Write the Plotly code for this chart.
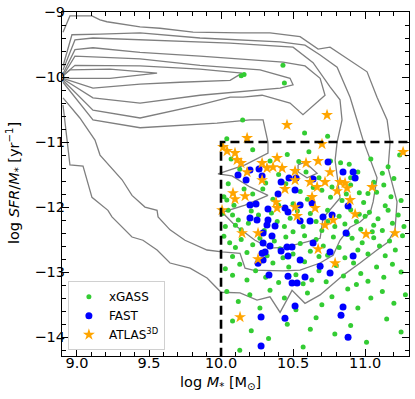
import plotly.graph_objects as go

# ---------------- contour paths (log M*, log sSFR) ----------------
c1_x = [8.903, 8.951, 9.104, 9.160, 9.208, 9.438, 9.576, 9.806, 10.132, 10.340, 10.549, 10.674, 10.757, 11.014, 11.083, 11.153, 11.174, 11.160, 11.222, 11.208, 11.153, 11.083, 10.965, 10.847, 10.688, 10.583, 10.493, 10.410, 10.340, 10.250, 10.132, 10.000, 9.903, 9.785, 9.646, 9.556, 9.458, 9.382, 9.243, 9.215, 9.104, 9.042, 8.951, 8.931, 8.903]
c1_y = [-9.31, -9.06, -9.06, -9.12, -9.15, -9.23, -9.25, -9.31, -9.32, -9.32, -9.38, -9.57, -9.54, -9.92, -10.31, -10.66, -11.00, -11.40, -11.92, -12.35, -12.55, -12.66, -12.86, -13.05, -13.35, -13.48, -13.28, -13.62, -13.38, -13.43, -13.32, -13.31, -13.09, -12.94, -12.86, -12.66, -12.51, -12.46, -12.15, -12.05, -11.85, -11.37, -11.35, -10.97, -10.43]

c2_x = [8.903, 8.965, 9.160, 9.438, 9.854, 10.410, 10.583, 10.688, 10.806, 10.896, 10.944, 10.986, 11.083, 11.056, 11.035, 10.965, 10.896, 10.826, 10.778, 10.688, 10.549, 10.430, 10.222, 10.167, 10.132, 10.007, 9.903, 9.750, 9.646, 9.563, 9.556, 9.472, 9.382, 9.313, 9.160, 9.125, 9.020, 8.903]
c2_y = [-9.83, -9.35, -9.34, -9.32, -9.40, -9.46, -9.51, -9.66, -9.85, -10.31, -10.66, -10.97, -11.55, -11.92, -12.09, -12.23, -12.31, -12.51, -12.74, -12.86, -12.97, -12.98, -12.97, -12.94, -12.71, -12.69, -12.66, -12.51, -12.35, -12.15, -12.05, -12.00, -11.82, -11.58, -11.20, -10.97, -10.63, -10.32]

c3_x = [8.903, 8.986, 9.111, 9.438, 10.063, 10.500, 10.639, 10.757, 10.826, 10.840, 10.806, 10.792, 10.826, 10.708, 10.688, 10.569, 10.430, 10.340, 10.236, 10.097, 10.007, 10.167, 10.326, 10.201, 10.076, 9.979, 10.167, 10.326, 10.326, 10.292, 10.201, 9.972, 9.438, 9.111, 8.903]
c3_y = [-9.89, -9.43, -9.40, -9.43, -9.48, -9.54, -9.78, -10.15, -10.35, -10.66, -11.00, -11.28, -11.86, -12.17, -12.48, -12.55, -12.62, -12.63, -12.51, -12.28, -12.08, -11.97, -11.82, -11.69, -11.52, -11.49, -11.35, -11.17, -11.00, -10.66, -10.66, -10.71, -10.78, -10.66, -10.08]

c4_x = [8.903, 8.986, 9.111, 9.438, 9.854, 10.201, 10.430, 10.583, 10.688, 10.722, 10.569, 10.479, 10.285, 10.153, 10.063, 9.854, 9.556, 9.438, 9.111, 8.903]
c4_y = [-9.95, -9.58, -9.55, -9.62, -9.68, -9.74, -9.77, -9.83, -10.02, -10.28, -10.58, -10.40, -10.28, -10.31, -10.31, -10.43, -10.58, -10.63, -10.51, -10.05]

c5_x = [8.903, 8.986, 9.438, 9.854, 10.271, 10.479, 10.500, 10.410, 9.854, 9.438, 9.111, 8.903]
c5_y = [-9.98, -9.68, -9.72, -9.82, -9.89, -10.02, -10.12, -10.17, -10.28, -10.40, -10.32, -10.03]

c6_x = [8.903, 8.986, 9.438, 9.854, 10.146, 10.063, 9.715, 9.438, 9.111, 8.903]
c6_y = [-9.98, -9.82, -9.83, -9.88, -9.94, -10.05, -10.08, -10.11, -10.17, -10.02]

c7_x = [8.903, 8.951, 9.229, 9.556, 9.229, 8.951, 8.903]
c7_y = [-9.98, -9.89, -9.88, -9.94, -10.02, -10.02, -10.00]

c8_x = [10.535, 10.583, 10.667, 10.597, 10.535, 10.535]
c8_y = [-11.35, -11.31, -11.48, -11.55, -11.46, -11.35]

# ---------------- xGASS ----------------
xgass_m = [10.14, 10.16, 10.43, 10.44, 10.15, 10.58, 10.74,
           10.04, 10.61, 10.76, 10.83, 10.89, 11.12, 11.16, 10.34, 10.59, 10.46, 10.22, 10.07, 10.95, 11.04, 11.24, 10.68, 10.40, 10.90, 10.13, 11.20, 10.54,
           11.08, 11.02, 10.70, 10.76, 10.77, 10.05, 10.02, 10.04, 10.09, 10.22, 10.29, 10.36, 10.55, 10.60, 10.64, 10.45, 10.90, 10.96, 10.99, 11.13, 11.18, 11.25, 11.14, 10.84, 10.40, 10.16, 10.31, 10.50, 10.87, 11.06,
           10.01, 10.05, 10.08, 10.03, 10.10, 10.14, 10.19, 10.21, 10.26, 10.35, 10.39, 10.44, 10.48, 10.53, 10.57, 10.62, 10.66, 10.70, 10.74, 10.79, 10.82, 10.86, 10.90, 10.94, 10.97, 11.00, 11.03, 11.06, 11.09, 11.12, 11.16, 11.19, 11.23, 11.27, 10.12, 10.30, 10.50, 10.74, 10.96, 11.05,
           10.02, 10.06, 10.10, 10.14, 10.18, 10.22, 10.27, 10.32, 10.37, 10.41, 10.45, 10.50, 10.55, 10.58, 10.62, 10.66, 10.71, 10.74, 10.78, 10.82, 10.86, 10.91, 10.95, 10.98, 11.02, 11.06, 11.10, 11.14, 11.17, 11.21, 11.26, 10.08, 10.43, 10.68, 10.88,
           10.03, 10.08, 10.13, 10.18, 10.24, 10.31, 10.36, 10.40, 10.47, 10.52, 10.58, 10.63, 10.68, 10.73, 10.80, 10.85, 10.92, 10.97, 11.02, 11.08, 11.13, 11.19, 11.25, 10.57, 10.94,
           10.04, 10.12, 10.20, 10.27, 10.34, 10.44, 10.52, 10.60, 10.70, 10.77, 10.88, 10.95, 11.04, 11.12, 11.20, 11.28,
           10.08, 10.21, 10.33, 10.46, 10.57, 10.66, 10.79, 10.90, 11.01, 11.15, 11.25, 10.13, 10.62]
xgass_s = [-9.98, -9.96, -9.82, -10.09, -10.66, -10.86, -10.91,
           -10.95, -11.15, -11.29, -11.32, -11.34, -11.48, -11.38, -11.29, -11.46, -11.19, -11.12, -11.26, -11.46, -11.26, -11.20, -11.55, -11.50, -11.55, -11.42, -11.56, -11.30,
           -11.77, -11.79, -11.74, -11.85, -11.69, -11.64, -11.84, -11.89, -11.97, -11.80, -11.72, -11.88, -11.76, -11.88, -11.70, -11.64, -11.66, -11.78, -11.93, -11.66, -11.84, -11.90, -11.98, -11.90, -11.97, -11.72, -11.63, -11.95, -11.80, -11.62,
           -12.10, -12.05, -12.12, -12.30, -12.28, -12.35, -12.25, -12.06, -12.12, -12.09, -12.22, -12.30, -12.17, -12.06, -12.30, -12.10, -12.22, -12.36, -12.05, -12.30, -12.14, -12.26, -12.04, -12.22, -12.34, -12.14, -12.08, -12.28, -12.18, -12.36, -12.05, -12.25, -12.12, -12.30, -12.20, -12.36, -12.38, -12.22, -12.11, -12.38,
           -12.45, -12.55, -12.62, -12.50, -12.70, -12.58, -12.48, -12.75, -12.52, -12.64, -12.46, -12.72, -12.56, -12.44, -12.68, -12.50, -12.60, -12.74, -12.46, -12.62, -12.78, -12.48, -12.66, -12.55, -12.72, -12.47, -12.60, -12.75, -12.52, -12.66, -12.44, -12.76, -12.78, -12.76, -12.42,
           -12.95, -13.05, -12.88, -13.12, -12.98, -13.08, -12.86, -13.16, -12.92, -13.04, -12.84, -13.12, -12.98, -13.15, -12.90, -13.06, -12.86, -13.02, -13.14, -12.92, -13.08, -12.88, -13.00, -13.18, -13.19,
           -13.30, -13.45, -13.35, -13.55, -13.28, -13.40, -13.58, -13.32, -13.50, -13.38, -13.26, -13.55, -13.40, -13.30, -13.48, -13.35,
           -13.75, -13.90, -14.02, -13.80, -14.15, -13.70, -13.95, -13.82, -14.08, -13.72, -13.92, -14.20, -13.88]

# ---------------- FAST ----------------
fast_m = [10.118, 10.174, 10.201, 10.264, 10.285, 10.417, 10.472, 10.521, 10.639, 10.514, 10.396, 10.243, 10.201, 10.326, 10.444, 10.465, 10.549, 10.632, 10.618, 10.549, 10.708, 10.771, 10.743, 10.847, 10.931, 10.917, 10.882, 10.868, 10.201, 10.250, 10.326, 10.375, 10.319, 10.292, 10.354, 10.292, 10.306, 10.340, 10.417, 10.458, 10.493, 10.465, 10.549, 10.639, 10.757, 10.917, 10.285, 10.292, 10.257, 10.688, 10.757, 10.333, 10.465, 10.493, 10.528, 10.583, 10.514, 10.444, 10.278, 10.847, 10.833, 10.882, 10.278]
fast_s = [-11.508, -11.585, -11.431, -11.415, -11.523, -11.615, -11.554, -11.554, -11.569, -11.738, -11.800, -11.954, -11.969, -12.031, -12.015, -12.077, -11.969, -11.938, -12.215, -12.215, -12.154, -12.123, -11.308, -11.462, -11.554, -11.462, -11.985, -12.400, -12.169, -12.200, -12.200, -12.292, -12.277, -12.400, -12.446, -12.554, -12.692, -12.600, -12.677, -12.615, -12.615, -12.754, -12.815, -12.554, -12.692, -12.754, -12.708, -12.815, -12.862, -12.908, -13.015, -13.046, -13.062, -13.169, -13.169, -13.077, -13.523, -13.708, -13.692, -13.538, -13.662, -14.000, -14.138]

# ---------------- ATLAS3D ----------------
atlas_m = [10.181, 10.014, 10.042, 10.097, 10.111, 10.139, 10.181, 10.285, 10.285, 10.319, 10.389, 10.361, 10.424, 10.458, 10.736, 10.701, 10.514, 10.674, 10.757, 10.618, 10.667, 10.722, 10.826, 10.861, 10.806, 10.875, 11.049, 10.444, 10.514, 10.632, 11.264, 10.083, 10.097, 10.167, 10.007, 10.389, 10.514, 10.653, 10.528, 10.778, 10.931, 10.722, 10.674, 10.792, 11.007, 11.208, 10.146, 10.257, 10.257, 10.132, 10.896, 10.382, 10.590]
atlas_s = [-10.938, -11.077, -11.138, -11.169, -11.277, -11.323, -11.462, -11.323, -11.585, -11.400, -11.246, -11.385, -11.400, -10.738, -10.585, -11.031, -11.446, -11.292, -11.462, -11.615, -11.692, -11.615, -11.615, -11.631, -11.754, -11.708, -11.692, -11.723, -11.585, -11.846, -11.154, -11.785, -11.877, -11.831, -12.046, -12.015, -12.000, -12.015, -12.138, -12.200, -12.108, -12.277, -12.646, -12.862, -12.415, -12.400, -12.400, -12.400, -12.800, -13.692, -11.892, -11.923, -11.323]

# selection box (log M* > 10, log sSFR < -11)
box_m = [10.0, 10.0, 11.31]
box_s = [-14.3, -11.0, -11.0]

x_ticks = [9.0, 9.5, 10.0, 10.5, 11.0]
x_ticktext = ["9.0", "9.5", "10.0", "10.5", "11.0"]
y_ticks = [-14, -13, -12, -11, -10, -9]
y_ticktext = ["\u221214", "\u221213", "\u221212", "\u221211", "\u221210", "\u22129"]

x_title = "log <i>M</i><sub>*</sub> [M<sub>\u2299</sub>]"
y_title = "log <i>SFR</i>/<i>M</i><sub>*</sub> [yr<sup>\u22121</sup>]"

fig = go.Figure()
for cx, cy in [(c1_x, c1_y), (c2_x, c2_y), (c3_x, c3_y), (c4_x, c4_y),
               (c5_x, c5_y), (c6_x, c6_y), (c7_x, c7_y), (c8_x, c8_y)]:
    fig.add_trace(go.Scatter(x=cx, y=cy, mode="lines", showlegend=False, hoverinfo="skip",
                             line=dict(color="#7f7f7f", width=1.3)))

fig.add_trace(go.Scatter(x=xgass_m, y=xgass_s, mode="markers", name="xGASS",
                         marker=dict(color="#33cc33", size=5, line=dict(width=0))))
fig.add_trace(go.Scatter(x=fast_m, y=fast_s, mode="markers", name="FAST",
                         marker=dict(color="#0000ff", size=7, line=dict(width=0))))
fig.add_trace(go.Scatter(x=atlas_m, y=atlas_s, mode="markers", name="ATLAS<sup>3D</sup>",
                         marker=dict(color="#ffa500", size=9, symbol="star", line=dict(width=0))))
fig.add_trace(go.Scatter(x=box_m, y=box_s, mode="lines", showlegend=False, hoverinfo="skip",
                         line=dict(color="black", width=2.6, dash="9px,5px")))

axis_common = dict(showgrid=False, zeroline=False, showline=True, linecolor="black", linewidth=1.2,
                   ticks="inside", ticklen=7, tickwidth=1, tickcolor="black", mirror="allticks",
                   automargin=False, ticklabelstandoff=-7, tickfont=dict(size=14.5, color="black"))

fig.update_xaxes(range=[8.896, 11.305], tickvals=x_ticks, ticktext=x_ticktext,
                 minor=dict(dtick=0.1, ticks="inside", ticklen=4, tickcolor="black", showgrid=False),
                 **axis_common)
fig.update_yaxes(range=[-14.29, -9.0], tickvals=y_ticks, ticktext=y_ticktext,
                 minor=dict(dtick=0.2, ticks="inside", ticklen=4, tickcolor="black", showgrid=False),
                 **axis_common)

fig.add_annotation(text=x_title, xref="paper", yref="paper", x=0.458, y=-0.078,
                   xanchor="center", yanchor="middle", showarrow=False,
                   font=dict(size=14.5, color="black"))
fig.add_annotation(text=y_title, xref="paper", yref="paper", x=-0.138, y=0.503,
                   xanchor="center", yanchor="middle", showarrow=False, textangle=-90,
                   font=dict(size=14.5, color="black"))

fig.update_layout(
    width=415, height=399,
    margin=dict(l=62, r=6, t=12, b=43),
    paper_bgcolor="white", plot_bgcolor="white",
    font=dict(family="DejaVu Sans", color="black"),
    legend=dict(x=0.017, y=0.017, xanchor="left", yanchor="bottom",
                bgcolor="rgba(255,255,255,0.85)", bordercolor="#d0d0d0", borderwidth=1,
                font=dict(size=12), itemsizing="trace", tracegroupgap=0),
)

fig.write_html("out.html", config={"displayModeBar": False},
               post_script="document.body.style.margin='0';document.body.style.padding='0';")
